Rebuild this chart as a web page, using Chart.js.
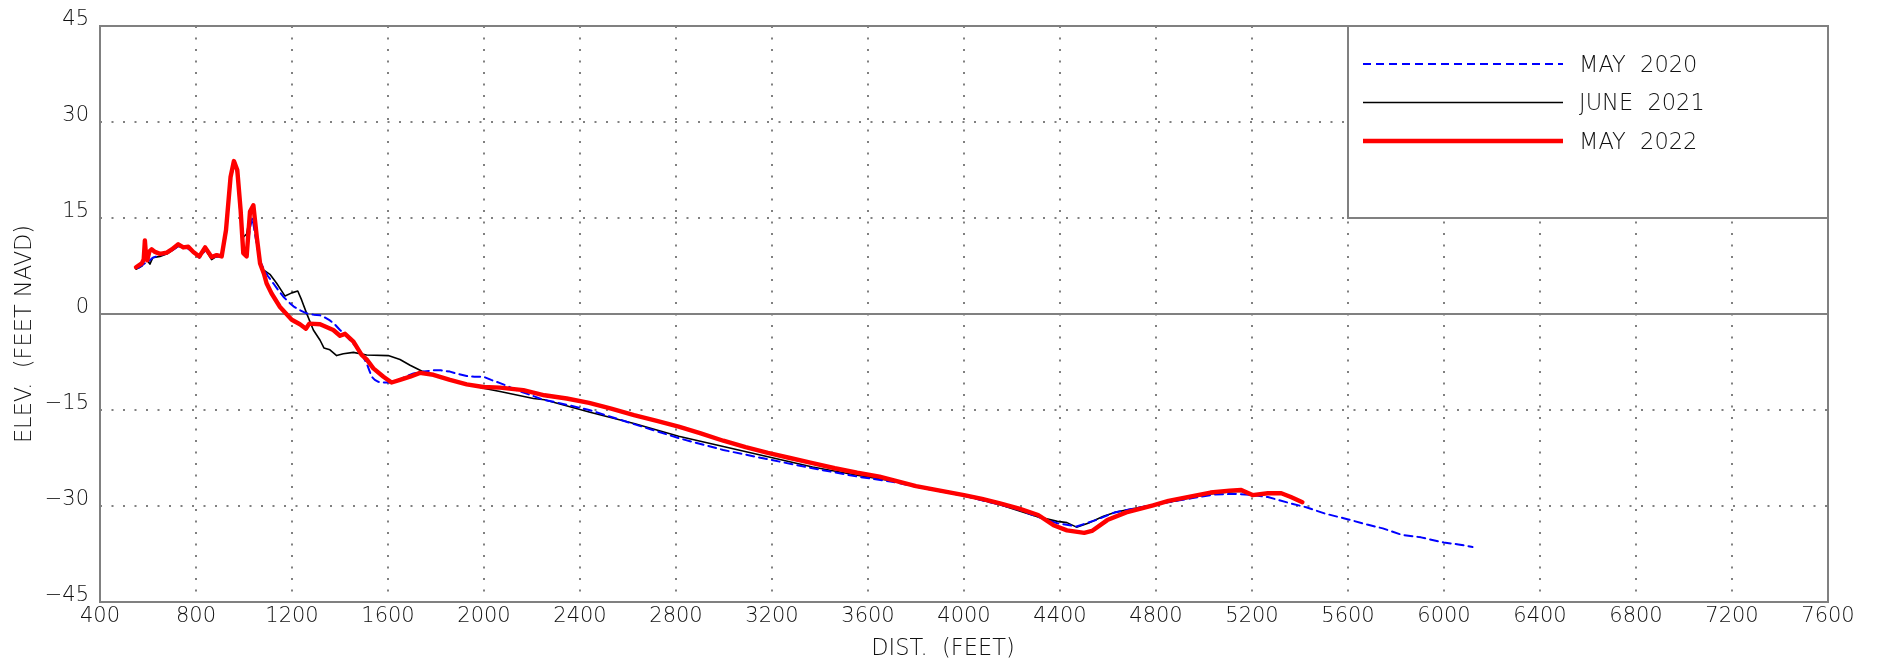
<!DOCTYPE html>
<html><head><meta charset="utf-8">
<script src="https://cdn.jsdelivr.net/npm/chart.js@4"></script>
<style>html,body{margin:0;padding:0;background:#fff;} canvas{display:block;}</style>
</head><body>
<canvas id="c" width="1879" height="665"></canvas>
<script>
const xTitle = 'DIST.  (FEET)';
const yTitle = 'ELEV.  (FEET NAVD)';
const seriesLabels = ['MAY  2020', 'JUNE  2021', 'MAY  2022'];
const xTicks = [400, 800, 1200, 1600, 2000, 2400, 2800, 3200, 3600, 4000, 4400, 4800, 5200, 5600, 6000, 6400, 6800, 7200, 7600];
const yTicks = [-45, -30, -15, 0, 15, 30, 45];

const dist2020 = [560, 575, 590, 605, 620, 650, 680, 700, 730, 760, 790, 815, 840, 865, 890, 910, 925, 945, 958, 972, 986, 998, 1012, 1025, 1035, 1048, 1065, 1081, 1100, 1122, 1143, 1164, 1185, 1206, 1233, 1261, 1290, 1317, 1340, 1358, 1380, 1400, 1420, 1442, 1462, 1483, 1498, 1511, 1522, 1532, 1545, 1560, 1585, 1608, 1630, 1650, 1678, 1706, 1750, 1789, 1820, 1858, 1895, 1928, 1960, 1997, 2030, 2067, 2100, 2136, 2190, 2247, 2300, 2438, 2625, 2811, 2997, 3183, 3369, 3555, 3700, 3800, 3900, 4000, 4150, 4230, 4309, 4389, 4469, 4549, 4628, 4708, 4788, 4870, 4947, 5043, 5139, 5202, 5266, 5362, 5426, 5506, 5601, 5680, 5745, 5824, 5904, 5999, 6060, 6119];
const elev2020 = [7.2, 7.6, 8.0, 8.3, 8.8, 9.2, 9.5, 9.9, 10.7, 10.4, 9.6, 8.8, 10.0, 8.8, 9.0, 9.3, 12.5, 21.0, 23.5, 22.0, 15.0, 10.5, 9.5, 13.5, 15.0, 12.0, 8.5, 7.1, 5.9, 4.8, 3.7, 2.7, 1.9, 1.2, 0.6, 0.1, -0.1, -0.2, -0.6, -1.0, -1.7, -2.5, -3.2, -4.1, -4.9, -5.9, -6.8, -7.7, -8.8, -9.8, -10.3, -10.6, -10.7, -10.7, -10.5, -10.2, -9.7, -9.3, -9.0, -8.8, -8.8, -9.0, -9.4, -9.7, -9.8, -9.8, -10.3, -10.8, -11.3, -11.9, -12.6, -13.4, -13.8, -15.0, -17.2, -19.4, -21.25, -22.7, -24.1, -25.4, -26.2, -27.0, -27.7, -28.4, -29.8, -30.6, -31.7, -32.7, -33.2, -32.2, -31.0, -30.4, -29.8, -29.3, -28.8, -28.2, -28.1, -28.3, -28.6, -29.6, -30.2, -31.2, -32.1, -32.9, -33.5, -34.5, -34.9, -35.7, -36.0, -36.4];

const dist2021 = [550, 575, 590, 600, 608, 620, 650, 680, 700, 726, 750, 770, 790, 814, 838, 865, 886, 907, 925, 944, 958, 972, 986, 997, 1011, 1025, 1039, 1053, 1067, 1081, 1108, 1136, 1171, 1199, 1224, 1240, 1261, 1289, 1317, 1333, 1358, 1386, 1414, 1456, 1511, 1601, 1650, 1692, 1740, 1789, 1858, 1928, 1997, 2067, 2206, 2252, 2438, 2625, 2811, 2997, 3183, 3369, 3555, 3700, 3800, 3900, 4000, 4150, 4309, 4389, 4429, 4469, 4517, 4581, 4628, 4708, 4788, 4870, 4947, 5027, 5107, 5155, 5202, 5266, 5322, 5362, 5410];
const elev2021 = [7.0, 7.5, 9.5, 8.2, 7.8, 8.8, 9.0, 9.4, 9.9, 10.6, 10.3, 10.3, 9.5, 8.8, 10.2, 8.5, 9.0, 8.9, 12.8, 21.2, 23.7, 22.3, 16.0, 12.0, 12.5, 15.5, 16.5, 12.0, 8.0, 6.9, 6.2, 4.8, 2.8, 3.3, 3.6, 2.2, 0.1, -2.5, -4.1, -5.3, -5.6, -6.5, -6.2, -6.0, -6.4, -6.5, -7.1, -8.0, -8.9, -9.4, -10.2, -10.9, -11.6, -12.1, -13.2, -13.4, -15.3, -17.1, -19.1, -20.7, -22.3, -23.9, -25.2, -26.1, -27.0, -27.7, -28.4, -29.8, -31.7, -32.4, -32.6, -33.3, -32.7, -31.6, -31.0, -30.4, -29.8, -29.3, -28.7, -28.1, -27.8, -27.7, -28.4, -28.1, -28.1, -28.7, -29.5];

const dist2022 = [550, 574, 582, 587, 592, 597, 606, 615, 629, 650, 678, 699, 726, 747, 768, 789, 814, 838, 865, 886, 907, 925, 944, 958, 972, 986, 997, 1011, 1025, 1039, 1053, 1067, 1083, 1094, 1115, 1150, 1199, 1233, 1258, 1272, 1317, 1372, 1400, 1421, 1456, 1490, 1511, 1539, 1581, 1615, 1650, 1692, 1733, 1789, 1858, 1928, 1997, 2067, 2164, 2252, 2345, 2438, 2530, 2625, 2720, 2811, 2900, 2997, 3090, 3183, 3275, 3369, 3462, 3555, 3648, 3700, 3800, 3900, 4000, 4075, 4150, 4230, 4309, 4373, 4429, 4501, 4533, 4597, 4676, 4788, 4852, 4947, 5027, 5107, 5155, 5202, 5266, 5322, 5362, 5410];
const elev2022 = [7.3, 7.9, 8.5, 11.5, 9.0, 8.4, 9.8, 10.1, 9.7, 9.4, 9.6, 10.1, 10.9, 10.4, 10.5, 9.7, 9.0, 10.4, 8.9, 9.2, 9.0, 13.1, 21.4, 23.9, 22.5, 16.2, 9.5, 9.0, 16.0, 17.0, 12.1, 7.9, 6.3, 4.8, 3.2, 1.1, -0.9, -1.6, -2.3, -1.5, -1.6, -2.5, -3.4, -3.1, -4.3, -6.4, -7.1, -8.5, -9.8, -10.7, -10.3, -9.8, -9.2, -9.5, -10.3, -11.0, -11.4, -11.5, -11.9, -12.7, -13.2, -13.9, -14.8, -15.8, -16.7, -17.6, -18.6, -19.8, -20.8, -21.7, -22.5, -23.3, -24.1, -24.8, -25.4, -25.9, -26.9, -27.6, -28.3, -28.9, -29.6, -30.4, -31.4, -33.0, -33.8, -34.2, -33.9, -32.2, -31.0, -29.9, -29.2, -28.5, -27.9, -27.6, -27.5, -28.3, -28.0, -28.0, -28.6, -29.4];

const pts = (xs, ys) => xs.map((x, i) => ({x: x, y: ys[i]}));

const FONT = {family: "'DejaVu Sans'", size: 21, weight: '200'};
const TEXT = '#111';
const GRID = '#808080';
const titleFont = `200 22.5px 'DejaVu Sans'`;
const legendFont = `200 22.5px 'DejaVu Sans'`;

const framePlugin = {
  id: 'frame',
  afterDatasetsDraw(chart) {
    const {ctx, chartArea: a} = chart;
    ctx.save();
    const lw = 480, lh = 192;
    const lx = a.right - lw, ly = a.top;
    ctx.fillStyle = '#fff';
    ctx.fillRect(lx, ly, lw, lh);
    ctx.strokeStyle = GRID; ctx.lineWidth = 2;
    ctx.strokeRect(lx, ly, lw, lh);
    chart.data.datasets.forEach((ds, i) => {
      const y = ly + 38 + i * 38.5;
      ctx.beginPath();
      ctx.strokeStyle = ds.borderColor;
      ctx.lineWidth = ds.borderWidth;
      ctx.setLineDash(ds.borderDash || []);
      ctx.moveTo(lx + 15, y); ctx.lineTo(lx + 215, y);
      ctx.stroke();
      ctx.setLineDash([]);
      ctx.fillStyle = TEXT;
      ctx.font = legendFont;
      ctx.textBaseline = 'middle';
      ctx.textAlign = 'left';
      ctx.fillText(ds.label, lx + 231, y + 2);
    });
    ctx.strokeStyle = GRID; ctx.lineWidth = 2;
    ctx.strokeRect(a.left, a.top, a.right - a.left, a.bottom - a.top);
    // axis titles
    ctx.fillStyle = TEXT;
    ctx.font = titleFont;
    ctx.textAlign = 'center';
    ctx.textBaseline = 'middle';
    ctx.fillText(xTitle, (a.left + a.right) / 2 - 21, a.bottom + 47);
    ctx.translate(25, (a.top + a.bottom) / 2 + 20);
    ctx.rotate(-Math.PI / 2);
    ctx.fillText(yTitle, 0, 0);
    ctx.restore();
  }
};

new Chart(document.getElementById('c'), {
  type: 'line',
  data: {
    datasets: [
      {label: seriesLabels[0], data: pts(dist2020, elev2020), borderColor: '#0000ff', borderWidth: 2, borderDash: [8, 5], order: 1},
      {label: seriesLabels[1], data: pts(dist2021, elev2021), borderColor: '#000000', borderWidth: 1.6, order: 2},
      {label: seriesLabels[2], data: pts(dist2022, elev2022), borderColor: '#ff0000', borderWidth: 4.4, order: 0}
    ]
  },
  options: {
    responsive: false,
    animation: false,
    layout: {padding: {left: 0, top: 26, right: 51, bottom: 0}},
    elements: {point: {radius: 0}, line: {tension: 0, borderJoinStyle: 'round', borderCapStyle: 'round', fill: false}},
    plugins: {legend: {display: false}, tooltip: {enabled: false}},
    scales: {
      x: {
        type: 'linear', min: xTicks[0], max: xTicks[xTicks.length - 1],
        afterBuildTicks: s => { s.ticks = xTicks.map(v => ({value: v})); },
        afterFit: s => { s.height = 63; },
        ticks: {color: TEXT, font: FONT, padding: 2, maxRotation: 0, autoSkip: false,
          callback: v => String(v)},
        grid: {color: GRID, lineWidth: 2, drawTicks: false},
        border: {display: false, dash: [2, 9.5]}
      },
      y: {
        type: 'linear', min: yTicks[0], max: yTicks[yTicks.length - 1],
        afterBuildTicks: s => { s.ticks = yTicks.map(v => ({value: v})); },
        afterFit: s => { s.width = 100; },
        ticks: {color: TEXT, font: FONT, padding: 11, labelOffset: -6,
          callback: v => v < 0 ? '\u2212' + Math.abs(v) : String(v)},
        grid: {color: GRID, lineWidth: 2, drawTicks: false},
        border: {display: false, dash: c => (c.tick && c.tick.value === 0) ? [] : [2, 9.5]}
      }
    }
  },
  plugins: [framePlugin]
});
</script>
</body></html>
